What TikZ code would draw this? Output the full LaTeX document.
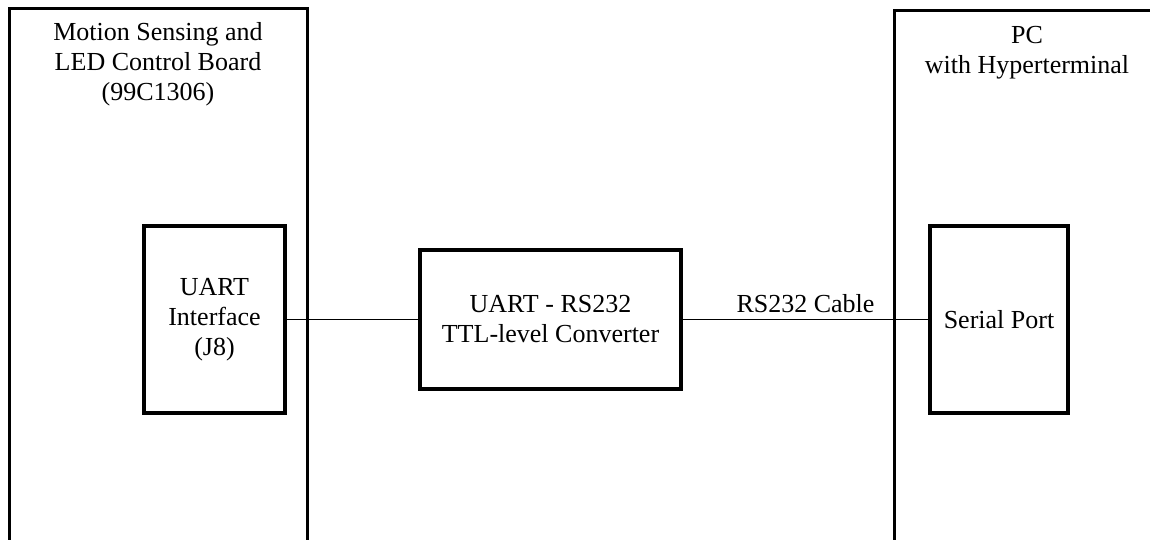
\documentclass[tikz,border=0pt]{standalone}
\usepackage{fontspec}
\setmainfont{Liberation Serif}
\usetikzlibrary{positioning}

\tikzset{
  board/.style={draw,line width=1.5pt,minimum width=#1,inner sep=0pt},
  unit/.style={draw,line width=1.7pt,align=center,inner sep=0pt},
  link/.style={line width=.8pt},
  txt/.style={align=center,inner sep=0pt}
}

\begin{document}
\begin{tikzpicture}[x=0.5pt,y=-0.5pt,every node/.style={font=\fontsize{13}{15}\selectfont}]
\clip (0,0) rectangle (1150,540);
\useasboundingbox (0,0) rectangle (1150,540);
\fill[white] (0,0) rectangle (1150,540);
% boards
\node[board=149pt,minimum height=275.5pt] (mcu) at (158,284.5) {};
\node[board=133pt,minimum height=274.5pt] (pc) at (1027,285.5) {};
\node[txt,anchor=north] (mcutitle) at (158,22) {Motion Sensing and\\LED Control Board\\(99C1306)};
\node[txt,anchor=north] (pctitle) at (1027,26) {PC\\with Hyperterminal};
% inner blocks
\node[unit,minimum width=70.5pt,minimum height=93.5pt] (uart) at (214.5,319.5) {UART\\Interface\\(J8)};
\node[unit,minimum width=130.5pt,minimum height=69.5pt] (conv) at (550.5,319.5) {UART - RS232\\TTL-level Converter};
\node[unit,minimum width=69pt,minimum height=93.5pt] (serial) at (999,319.5) {Serial Port};
% wiring
\draw[link] (uart) -- (conv);
\draw[link] (conv) -- node[above=3pt,inner sep=0pt] (cable) {RS232 Cable} (serial);
\end{tikzpicture}
\end{document}
